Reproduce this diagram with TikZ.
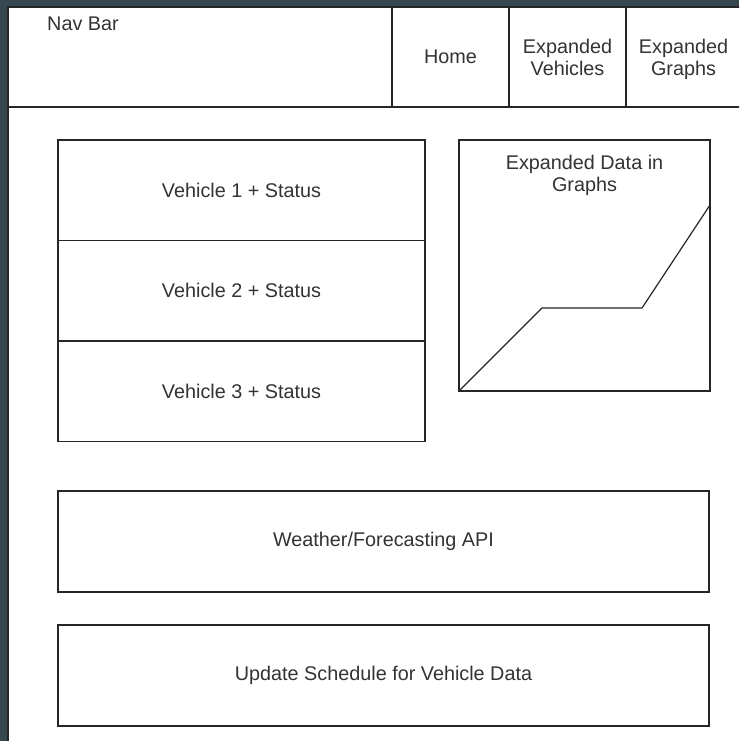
\documentclass[tikz,border=0pt]{standalone}
\usepackage{fontspec}
\setmainfont{Liberation Sans}
\usetikzlibrary{positioning}

\definecolor{framegray}{RGB}{55,71,79}
\definecolor{inkgray}{RGB}{51,51,51}

\def\navh{100}
\def\cellw{117}
\def\vehw{367}
\def\vehh{100.5}

\tikzset{
  box/.style={draw=black!85, line width=1.2pt, inner sep=0pt, outer sep=0pt,
    text=inkgray, font=\fontsize{19.8}{22}\selectfont, align=center},
  lbl/.style={text=inkgray, font=\fontsize{19.8}{22}\selectfont, align=center, inner sep=0pt},
}

\begin{document}
\begin{tikzpicture}[x=1pt,y=-1pt]
    \fill[framegray] (0,0) rectangle (739,741);
    \useasboundingbox (0,0) rectangle (739,741);
    \clip (0,0) rectangle (739,741);
    \fill[white] (8,7) rectangle (745,745);

    \node[box, minimum width=384, minimum height=\navh, anchor=north west] (navbar) at (8,7) {};
    \node[lbl] (navlabel) at (83,24) {Nav Bar};
    \node[box, minimum width=\cellw, minimum height=\navh, anchor=north west] (home) at (navbar.north east) {Home};
    \node[box, minimum width=\cellw, minimum height=\navh, anchor=north west] (vehicles) at (home.north east) {Expanded\\Vehicles};
    \node[box, minimum width=124, minimum height=\navh, anchor=north west] (graphs) at (vehicles.north east) {};
    \node[lbl] (graphstext) at (683.5,59) {Expanded\\Graphs};
    \draw[black!85, line width=1.2pt] (navbar.south west) -- ++(0,640);

    \node[box, minimum width=\vehw, minimum height=\vehh, anchor=north west] (veh1) at (58,140) {Vehicle 1 + Status};
    \node[box, minimum width=\vehw, minimum height=\vehh, below=0pt of veh1] (veh2) {Vehicle 2 + Status};
    \node[box, minimum width=\vehw, minimum height=\vehh, below=0pt of veh2] (veh3) {Vehicle 3 + Status};

    \node[box, minimum width=251, minimum height=251, anchor=north west] (graph) at (459,140) {};
    \node[lbl] (graphlabel) at (584.5,175) {Expanded Data in\\Graphs};
    \coordinate (bendA) at (542,308);
    \coordinate (bendB) at (642,308);
    \coordinate (peak) at (graph.east |- 0,205);
    \draw[black!85, line width=1.2pt] (graph.south west) -- (bendA) -- (bendB) -- (peak);

    \node[box, minimum width=651, minimum height=101, anchor=north west] (weather) at (58,491) {Weather/Forecasting API};
    \node[box, minimum width=651, minimum height=101, anchor=north west] (schedule) at (58,625) {Update Schedule for Vehicle Data};
\end{tikzpicture}
\end{document}
